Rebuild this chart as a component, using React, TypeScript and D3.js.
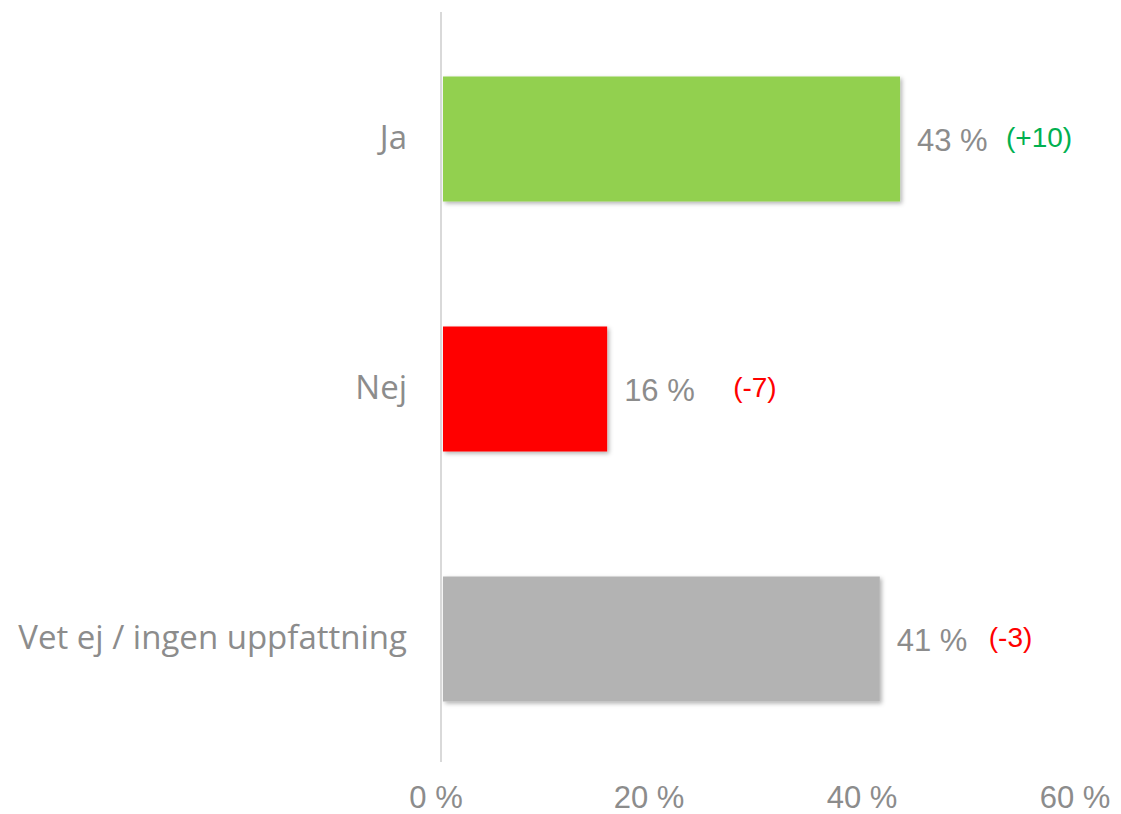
import React from "react";
import * as d3 from "d3";

const categories = ["Ja", "Nej", "Vet ej / ingen uppfattning"];
const values = [43.1, 15.6, 41.2];
const valueLabels = ["43 %", "16 %", "41 %"];
const changes = ["(+10)", "(-7)", "(-3)"];
const changeColors = ["#00b050", "#ff0000", "#ff0000"];
const barColors = ["#92d050", "#ff0000", "#b3b3b3"];
const ticks = [0, 20, 40, 60];
const changeGap = [19, 39, 22];

const W = 1121;
const H = 814;
const left = 441;
const right = 1080;
const top = 12;
const bottom = 762;

export default function App() {
  const x = d3.scaleLinear().domain([0, 60]).range([left, right]);
  const y = d3.scaleBand<string>().domain(categories).range([top + 2, bottom + 2]).paddingInner(0.5).paddingOuter(0.25);
  const valFont = "'Liberation Sans', Arial, sans-serif";
  const catFont = "'Open Sans', sans-serif";
  const valueLabelWidth = 70;
  return (
    <svg width={W} height={H} style={{ position: "absolute", left: 0, top: 0 }}>
      <defs>
        <filter id="shadow" x="-5%" y="-5%" width="115%" height="125%">
          <feDropShadow dx="2" dy="2" stdDeviation="2" floodColor="#000" floodOpacity="0.3" />
        </filter>
      </defs>
      <rect width={W} height={H} fill="#fff" />
      {categories.map((c, i) => {
        const y0 = y(c)!;
        const bw = y.bandwidth();
        const cy = y0 + bw / 2;
        const xEnd = x(values[i]);
        const vx = xEnd + 17;
        return (
          <g key={c}>
            <rect x={left + 2} y={y0} width={xEnd - left - 2} height={bw} fill={barColors[i]} filter="url(#shadow)" />
            <text x={407} y={cy + 10} textAnchor="end" fontFamily={catFont} fontSize={33} fill="#8c8c8c">
              {c}
            </text>
            <text x={vx} y={cy + 12} fontFamily={valFont} fontSize={31} fill="#8c8c8c">
              {valueLabels[i]}
            </text>
            <text x={vx + valueLabelWidth + changeGap[i]} y={cy + 8} fontFamily={valFont} fontSize={28} fill={changeColors[i]}>
              {changes[i]}
            </text>
          </g>
        );
      })}
      <line x1={left} x2={left} y1={top} y2={bottom} stroke="#d9d9d9" strokeWidth={2} />
      {ticks.map((t) => (
        <text key={t} x={x(t) - 5} y={808} textAnchor="middle" fontFamily={valFont} fontSize={31} fill="#8c8c8c">
          {t} %
        </text>
      ))}
    </svg>
  );
}
